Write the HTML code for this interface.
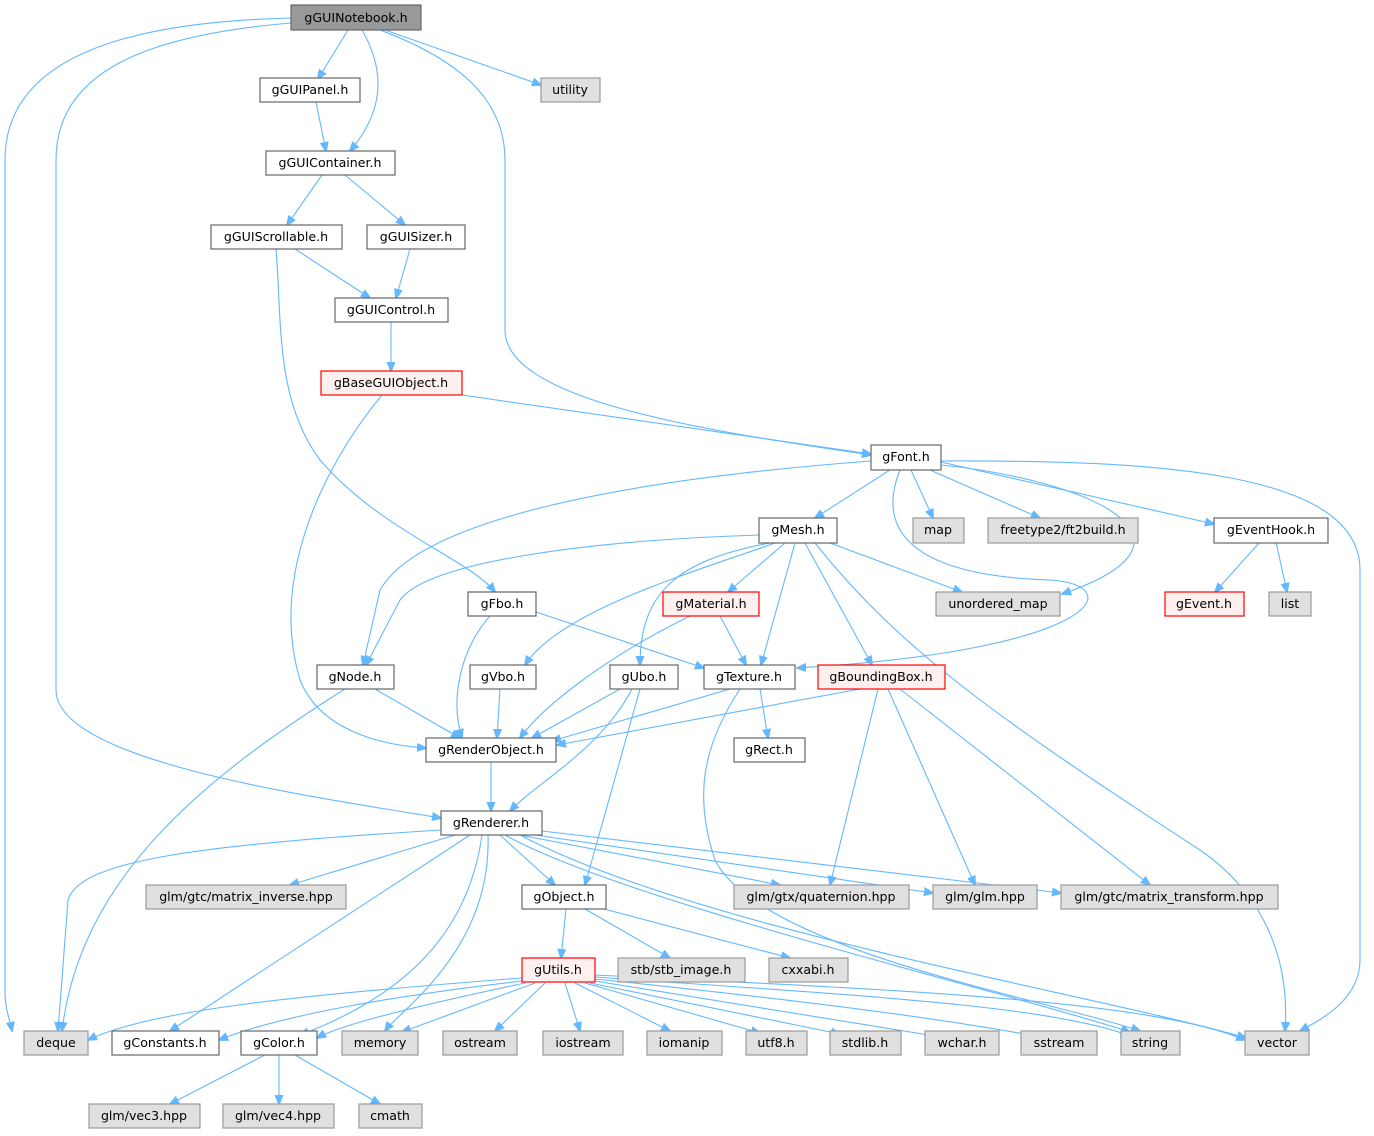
<!DOCTYPE html>
<html><head><meta charset="utf-8"><style>
html,body{margin:0;padding:0;background:#fff;}
svg{display:block;}
text{font-family:"DejaVu Sans","Liberation Sans",sans-serif;font-size:12.6px;fill:#000;text-anchor:middle;}
.e{fill:none;stroke:#63b8ff;stroke-width:1.1;marker-end:url(#a);}
.n rect{fill:#fff;stroke:#666;stroke-width:1.2;}
.g rect{fill:#e0e0e0;stroke:#999;stroke-width:1.2;}
.r rect{fill:#fff0f0;stroke:#f00;stroke-width:1.2;}
</style></head><body>
<svg width="1374" height="1136" viewBox="0 0 1374 1136" xmlns="http://www.w3.org/2000/svg">
<defs><marker id="a" viewBox="0 0 10 10" refX="9" refY="5" markerWidth="10" markerHeight="10" markerUnits="userSpaceOnUse" orient="auto"><path d="M0,1 L10,5 L0,9 z" fill="#63b8ff" stroke="#63b8ff"/></marker></defs>
<g>
<path class="e" d="M291,18 C120,22 5,60 5,160 L5,990 C5,1010 10,1020 12,1031"/>
<path class="e" d="M291,23 C150,35 56,70 56,160 L56,690 C56,760 300,795 441,818"/>
<path class="e" d="M348,30 L318,79"/>
<path class="e" d="M362,30 C385,70 385,110 350,151"/>
<path class="e" d="M380,30 C460,60 505,100 505,160 L505,330 C505,400 700,430 871,455"/>
<path class="e" d="M385,30 L541,85"/>
<path class="e" d="M316,102 L326,151"/>
<path class="e" d="M322,175 L287,225"/>
<path class="e" d="M345,175 L405,225"/>
<path class="e" d="M295,249 L370,298"/>
<path class="e" d="M276,249 C282,320 275,400 320,460 C380,530 470,560 495,592"/>
<path class="e" d="M410,249 L396,298"/>
<path class="e" d="M391,322 L391,371"/>
<path class="e" d="M462,395 L871,454"/>
<path class="e" d="M382,395 C320,470 270,580 300,680 C320,730 380,745 426,748"/>
<path class="e" d="M890,470 L815,518"/>
<path class="e" d="M911,470 L933,518"/>
<path class="e" d="M930,470 L1040,518"/>
<path class="e" d="M941,462 L1214,524"/>
<path class="e" d="M941,461 C1150,460 1360,470 1360,570 L1360,960 C1360,1000 1320,1020 1300,1031"/>
<path class="e" d="M941,465 C1090,480 1220,540 1062,594"/>
<path class="e" d="M900,470 C880,520 895,575 1050,580 C1130,585 1100,650 797,668"/>
<path class="e" d="M871,461 C620,480 420,520 380,590 L363,665"/>
<path class="e" d="M1260,542 L1215,592"/>
<path class="e" d="M1276,542 L1287,592"/>
<path class="e" d="M760,535 C600,540 430,560 400,600 L366,665"/>
<path class="e" d="M775,543 C700,570 560,610 525,665"/>
<path class="e" d="M770,543 C680,560 640,590 640,665"/>
<path class="e" d="M785,543 L728,592"/>
<path class="e" d="M795,543 L761,665"/>
<path class="e" d="M805,543 L872,665"/>
<path class="e" d="M830,543 L962,592"/>
<path class="e" d="M815,543 C900,650 1000,720 1200,850 C1265,895 1290,960 1285,1031"/>
<path class="e" d="M536,612 L704,668"/>
<path class="e" d="M490,616 C460,650 450,700 462,738"/>
<path class="e" d="M720,616 L746,665"/>
<path class="e" d="M690,616 C600,660 540,710 520,738"/>
<path class="e" d="M375,689 L460,738"/>
<path class="e" d="M345,689 C200,780 80,880 62,1031"/>
<path class="e" d="M500,689 L497,738"/>
<path class="e" d="M620,689 L532,738"/>
<path class="e" d="M632,689 C600,750 540,780 510,811"/>
<path class="e" d="M640,689 C620,760 600,830 585,885"/>
<path class="e" d="M730,689 L552,741"/>
<path class="e" d="M760,689 L768,738"/>
<path class="e" d="M740,689 C700,750 695,800 715,860 C760,950 1050,1000 1140,1031"/>
<path class="e" d="M860,689 L557,745"/>
<path class="e" d="M878,689 L830,885"/>
<path class="e" d="M888,689 L975,885"/>
<path class="e" d="M900,689 L1150,885"/>
<path class="e" d="M491,762 L491,811"/>
<path class="e" d="M441,830 C200,845 80,860 68,900 L58,1031"/>
<path class="e" d="M455,835 L290,885"/>
<path class="e" d="M470,835 L170,1031"/>
<path class="e" d="M482,835 C470,920 420,990 300,1035"/>
<path class="e" d="M488,835 C492,950 400,1010 385,1031"/>
<path class="e" d="M500,835 L555,885"/>
<path class="e" d="M520,835 L780,885"/>
<path class="e" d="M535,835 L933,893"/>
<path class="e" d="M542,831 L1061,893"/>
<path class="e" d="M520,835 C700,930 1100,995 1246,1038"/>
<path class="e" d="M505,835 C620,900 1000,990 1130,1032"/>
<path class="e" d="M566,909 L561,958"/>
<path class="e" d="M585,909 L670,958"/>
<path class="e" d="M604,909 L790,958"/>
<path class="e" d="M522,978 C300,995 150,1010 88,1040"/>
<path class="e" d="M522,981 C400,995 280,1015 219,1040"/>
<path class="e" d="M525,983 C420,1005 340,1025 317,1038"/>
<path class="e" d="M535,983 L402,1032"/>
<path class="e" d="M545,983 L495,1031"/>
<path class="e" d="M565,983 L580,1031"/>
<path class="e" d="M575,983 L670,1031"/>
<path class="e" d="M585,983 L760,1033"/>
<path class="e" d="M590,983 L840,1034"/>
<path class="e" d="M595,981 L935,1036"/>
<path class="e" d="M595,979 C800,1000 950,1020 1035,1036"/>
<path class="e" d="M595,977 C850,995 1050,1005 1130,1036"/>
<path class="e" d="M595,975 C900,990 1150,1000 1245,1040"/>
<path class="e" d="M265,1055 L170,1104"/>
<path class="e" d="M279,1055 L279,1104"/>
<path class="e" d="M295,1055 L380,1104"/>
</g>
<g class="n"><rect x="291" y="5" width="130" height="25" style="fill:#999;stroke:#666"/><text x="356" y="22">gGUINotebook.h</text></g>
<g class="n"><rect x="260" y="78" width="100" height="24"/><text x="310" y="94">gGUIPanel.h</text></g>
<g class="g"><rect x="541" y="78" width="59" height="24"/><text x="570" y="94">utility</text></g>
<g class="n"><rect x="266" y="151" width="129" height="24"/><text x="330" y="167">gGUIContainer.h</text></g>
<g class="n"><rect x="211" y="225" width="131" height="24"/><text x="276" y="241">gGUIScrollable.h</text></g>
<g class="n"><rect x="367" y="225" width="98" height="24"/><text x="416" y="241">gGUISizer.h</text></g>
<g class="n"><rect x="335" y="298" width="113" height="24"/><text x="391" y="314">gGUIControl.h</text></g>
<g class="r"><rect x="321" y="371" width="141" height="24"/><text x="391" y="387">gBaseGUIObject.h</text></g>
<g class="n"><rect x="871" y="445" width="70" height="25"/><text x="906" y="461">gFont.h</text></g>
<g class="n"><rect x="759" y="518" width="78" height="25"/><text x="798" y="534">gMesh.h</text></g>
<g class="g"><rect x="913" y="518" width="51" height="25"/><text x="938" y="534">map</text></g>
<g class="g"><rect x="988" y="518" width="150" height="25"/><text x="1063" y="534">freetype2/ft2build.h</text></g>
<g class="n"><rect x="1214" y="518" width="114" height="25"/><text x="1271" y="534">gEventHook.h</text></g>
<g class="n"><rect x="468" y="592" width="68" height="24"/><text x="502" y="608">gFbo.h</text></g>
<g class="r"><rect x="663" y="592" width="96" height="24"/><text x="711" y="608">gMaterial.h</text></g>
<g class="g"><rect x="936" y="592" width="124" height="24"/><text x="998" y="608">unordered_map</text></g>
<g class="r"><rect x="1165" y="592" width="79" height="24"/><text x="1204" y="608">gEvent.h</text></g>
<g class="g"><rect x="1269" y="592" width="42" height="24"/><text x="1290" y="608">list</text></g>
<g class="n"><rect x="317" y="665" width="77" height="24"/><text x="355" y="681">gNode.h</text></g>
<g class="n"><rect x="470" y="665" width="66" height="24"/><text x="503" y="681">gVbo.h</text></g>
<g class="n"><rect x="610" y="665" width="68" height="24"/><text x="644" y="681">gUbo.h</text></g>
<g class="n"><rect x="704" y="665" width="91" height="24"/><text x="749" y="681">gTexture.h</text></g>
<g class="r"><rect x="818" y="665" width="127" height="24"/><text x="881" y="681">gBoundingBox.h</text></g>
<g class="n"><rect x="426" y="738" width="130" height="24"/><text x="491" y="754">gRenderObject.h</text></g>
<g class="n"><rect x="734" y="738" width="71" height="24"/><text x="769" y="754">gRect.h</text></g>
<g class="n"><rect x="441" y="811" width="101" height="24"/><text x="491" y="827">gRenderer.h</text></g>
<g class="g"><rect x="146" y="885" width="200" height="24"/><text x="246" y="901">glm/gtc/matrix_inverse.hpp</text></g>
<g class="n"><rect x="522" y="885" width="84" height="24"/><text x="564" y="901">gObject.h</text></g>
<g class="g"><rect x="734" y="885" width="175" height="24"/><text x="821" y="901">glm/gtx/quaternion.hpp</text></g>
<g class="g"><rect x="933" y="885" width="104" height="24"/><text x="985" y="901">glm/glm.hpp</text></g>
<g class="g"><rect x="1061" y="885" width="217" height="24"/><text x="1169" y="901">glm/gtc/matrix_transform.hpp</text></g>
<g class="r"><rect x="522" y="958" width="73" height="24"/><text x="558" y="974">gUtils.h</text></g>
<g class="g"><rect x="618" y="958" width="127" height="24"/><text x="681" y="974">stb/stb_image.h</text></g>
<g class="g"><rect x="769" y="958" width="79" height="24"/><text x="808" y="974">cxxabi.h</text></g>
<g class="g"><rect x="24" y="1031" width="64" height="24"/><text x="56" y="1047">deque</text></g>
<g class="n"><rect x="112" y="1031" width="107" height="24"/><text x="165" y="1047">gConstants.h</text></g>
<g class="n"><rect x="241" y="1031" width="76" height="24"/><text x="279" y="1047">gColor.h</text></g>
<g class="g"><rect x="342" y="1031" width="76" height="24"/><text x="380" y="1047">memory</text></g>
<g class="g"><rect x="443" y="1031" width="74" height="24"/><text x="480" y="1047">ostream</text></g>
<g class="g"><rect x="543" y="1031" width="80" height="24"/><text x="583" y="1047">iostream</text></g>
<g class="g"><rect x="647" y="1031" width="75" height="24"/><text x="684" y="1047">iomanip</text></g>
<g class="g"><rect x="746" y="1031" width="61" height="24"/><text x="776" y="1047">utf8.h</text></g>
<g class="g"><rect x="830" y="1031" width="71" height="24"/><text x="865" y="1047">stdlib.h</text></g>
<g class="g"><rect x="925" y="1031" width="74" height="24"/><text x="962" y="1047">wchar.h</text></g>
<g class="g"><rect x="1021" y="1031" width="76" height="24"/><text x="1059" y="1047">sstream</text></g>
<g class="g"><rect x="1121" y="1031" width="59" height="24"/><text x="1150" y="1047">string</text></g>
<g class="g"><rect x="1245" y="1031" width="64" height="24"/><text x="1277" y="1047">vector</text></g>
<g class="g"><rect x="89" y="1104" width="111" height="24"/><text x="144" y="1120">glm/vec3.hpp</text></g>
<g class="g"><rect x="223" y="1104" width="111" height="24"/><text x="278" y="1120">glm/vec4.hpp</text></g>
<g class="g"><rect x="359" y="1104" width="63" height="24"/><text x="390" y="1120">cmath</text></g>
</svg>
</body></html>
